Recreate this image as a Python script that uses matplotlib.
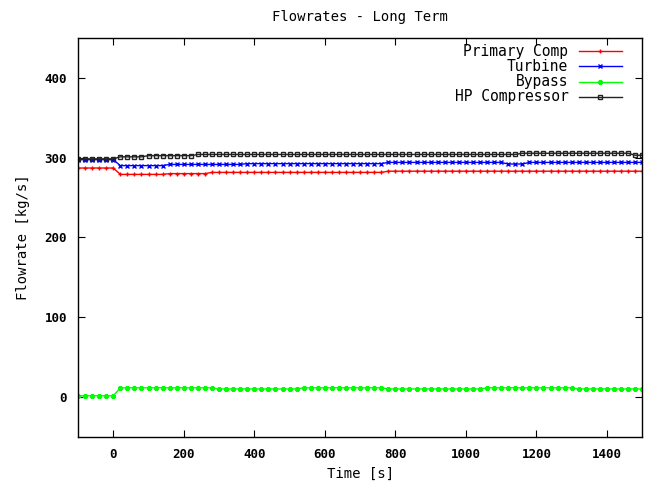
import numpy as np
import matplotlib
matplotlib.use('Agg')
import matplotlib.pyplot as plt

plt.rcParams['font.family'] = 'DejaVu Sans Mono'
plt.rcParams['font.size'] = 9
plt.rcParams['font.weight'] = 'bold'

# time axis, one sample every 20 s
time = list(range(-100, 1501, 20))

primary_comp = [287, 287, 287, 287, 287, 287, 279, 279, 279, 279,
                279, 279, 279, 280, 280, 280, 280, 280, 280, 281.5,
                281.5, 281.5, 281.5, 281.5, 281.5, 281.5, 281.5, 281.5, 281.5, 281.5,
                281.5, 281.5, 281.5, 281.5, 281.5, 281.5, 281.5, 281.5, 281.5, 281.5,
                281.5, 281.5, 281.5, 281.5, 283, 283, 283, 283, 283, 283,
                283, 283, 283, 283, 283, 283, 283, 283, 283, 283,
                283, 283, 283, 283, 283, 283, 283, 283, 283, 283,
                283, 283, 283, 283, 283, 283, 283, 283, 283, 283, 283]

turbine = [297.5, 297.5, 297.5, 297.5, 297.5, 297.5, 290, 290, 290, 290,
           290, 290, 290, 291.5, 291.5, 291.5, 291.5, 291.5, 291.5, 291.5,
           291.5, 291.5, 291.5, 291.5, 292.5, 292.5, 292.5, 292.5, 292.5, 292.5,
           292.5, 292.5, 292.5, 292.5, 292.5, 292.5, 292.5, 292.5, 292.5, 292.5,
           292.5, 292.5, 292.5, 292.5, 294, 294, 294, 294, 294, 294,
           294, 294, 294, 294, 294, 294, 294, 294, 294, 294,
           294, 292, 292, 292, 294, 294, 294, 294, 294, 294,
           294, 294, 294, 294, 294, 294, 294, 294, 294, 294, 294]

bypass = [1.5, 1.5, 1.5, 1.5, 1.5, 1.5, 11.5, 11.5, 11.5, 11.5,
          11.5, 11.5, 11.5, 11.5, 11.5, 11.5, 11.5, 11.5, 11.5, 11.5,
          10, 10, 10, 10, 10, 10, 10, 10, 10, 10,
          10, 10, 11.5, 11.5, 11.5, 11.5, 11.5, 11.5, 11.5, 11.5,
          11.5, 11.5, 11.5, 11.5, 10, 10, 10, 10, 10, 10,
          10, 10, 10, 10, 10, 10, 10, 10, 11.5, 11.5,
          11.5, 11.5, 11.5, 11.5, 11.5, 11.5, 11.5, 11.5, 11.5, 11.5,
          11.5, 10, 10, 10, 10, 10, 10, 10, 10, 10, 10]

hp_compressor = [298.5, 298.5, 298.5, 298.5, 298.5, 298.5, 301, 301, 301, 301,
                 302.5, 302.5, 302.5, 302.5, 302.5, 302.5, 302.5, 304, 304, 304,
                 304, 304, 304, 304, 304, 304, 304, 304, 304, 304,
                 304, 304, 304, 304, 304, 304, 304, 304, 304, 304,
                 304, 304, 304, 304, 304, 304, 304, 304, 304, 304,
                 304, 304, 304, 304, 304, 304, 304, 304, 304, 304,
                 304, 304, 304, 305.5, 305.5, 305.5, 305.5, 305.5, 305.5, 305.5,
                 305.5, 305.5, 305.5, 305.5, 305.5, 305.5, 305.5, 305.5, 305.5, 303, 303]

series = [('Primary Comp', primary_comp, '#ff0000', '+', {}),
          ('Turbine', turbine, '#0000ff', 'x', {}),
          ('Bypass', bypass, '#00ff00', (8, 2, 0), {}),
          ('HP Compressor', hp_compressor, '#222222', 's', {'mfc': 'none'})]

fig = plt.figure(figsize=(6.5, 4.87), dpi=100)
ax = fig.add_axes([0.12, 0.103, 0.868, 0.819])

for i, (name, vals, col, mk, kw) in enumerate(series):
    ax.plot(time, vals, color=col, lw=1, marker=mk, ms=3.5, mew=1, **kw)
    # gnuplot style key: label right aligned, sample to the right
    yk = 0.967 - i * 0.0383
    ax.text(0.869, yk, name, transform=ax.transAxes, ha='right', va='center',
            fontsize=10.5, fontweight='normal')
    ax.plot([0.888, 0.9645], [yk, yk], transform=ax.transAxes, color=col, lw=1)
    ax.plot([0.9255], [yk], transform=ax.transAxes, color=col, marker=mk,
            ms=3.5, mew=1, **kw)

ax.set_xlim(-100, 1500)
ax.set_ylim(-50, 450)
ax.set_xticks(np.arange(0, 1401, 200))
ax.set_yticks(np.arange(0, 401, 100))
ax.tick_params(direction='in', top=True, right=True, length=5, pad=8)
for s in ax.spines.values():
    s.set_linewidth(1)

ax.set_title('Flowrates - Long Term', pad=12, fontsize=10, fontweight='normal')
ax.set_xlabel('Time [s]', fontsize=10)
ax.set_ylabel('Flowrate [kg/s]', labelpad=10, fontsize=10)

fig.savefig('out.png', dpi=100)
